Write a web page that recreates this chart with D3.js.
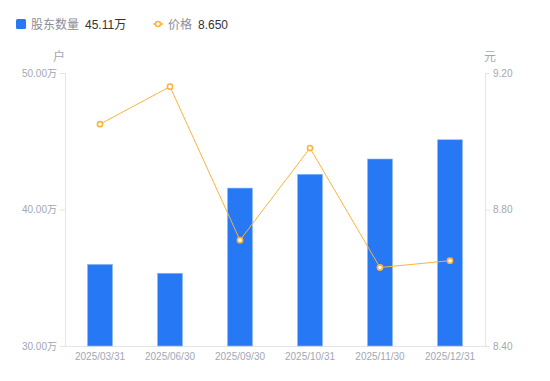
<!DOCTYPE html>
<html><head><meta charset="utf-8">
<script src="https://cdn.jsdelivr.net/npm/d3@7/dist/d3.min.js"></script>
<style>body{margin:0;background:#fff;}svg{display:block;font-family:"Liberation Sans","Noto Sans CJK SC",sans-serif;}</style>
</head><body>
<svg id="c" width="550" height="381"></svg>
<script>
const categories = ["2025/03/31","2025/06/30","2025/09/30","2025/10/31","2025/11/30","2025/12/31"];
const holders = [35.98, 35.33, 41.57, 42.58, 43.70, 45.11];
const prices = [9.05, 9.16, 8.71, 8.98, 8.63, 8.65];
const leftTicks = [30, 40, 50];
const rightTicks = [8.40, 8.80, 9.20];

const svg = d3.select("#c");
const L = 65, R = 485, T = 73, B = 346;
const gray = "#a3a6b4", axisCol = "#e3e4e8";
const ff = "'Liberation Sans', 'Noto Sans CJK SC', sans-serif";

const x = d3.scaleBand().domain(categories).range([L, R]);
const yL = d3.scaleLinear().domain([30, 50]).range([B, T]);
const yR = d3.scaleLinear().domain([8.4, 9.2]).range([B, T]);

const gl = svg.append("g").attr("transform", `translate(${L},0)`)
  .call(d3.axisLeft(yL).tickValues(leftTicks).tickSize(5).tickPadding(3).tickFormat(d => d.toFixed(2) + "万"));
const gr = svg.append("g").attr("transform", `translate(${R},0)`)
  .call(d3.axisRight(yR).tickValues(rightTicks).tickSize(5).tickPadding(3).tickFormat(d => d.toFixed(2)));
const gx = svg.append("g").attr("transform", `translate(0,${B})`)
  .call(d3.axisBottom(x).tickSize(0).tickPadding(7));
[gl, gr, gx].forEach(g => {
  g.selectAll(".domain").attr("stroke", axisCol);
  g.selectAll(".tick line").attr("stroke", axisCol);
  g.selectAll("text").attr("fill", gray).style("font-size", "10px").style("font-family", ff);
});

svg.append("text").attr("x", 59).attr("y", 61).attr("text-anchor", "middle").attr("fill", gray).style("font-size", "12px").text("户");
svg.append("text").attr("x", 490).attr("y", 61).attr("text-anchor", "middle").attr("fill", gray).style("font-size", "12px").text("元");

const bw = 25;
svg.append("g").selectAll("rect").data(holders).join("rect")
  .attr("x", (d, i) => x(categories[i]) + x.bandwidth() / 2 - bw / 2)
  .attr("y", d => yL(d))
  .attr("width", bw)
  .attr("height", d => B - yL(d))
  .attr("fill", "#2778f4")
  .attr("stroke", "#8fb9fa").attr("stroke-width", 0.6);

const orange = "#f9b43c";
const line = d3.line().x((d, i) => x(categories[i]) + x.bandwidth() / 2).y(d => yR(d));
svg.append("path").datum(prices).attr("d", line).attr("fill", "none").attr("stroke", orange).attr("stroke-width", 1);
svg.append("g").selectAll("circle").data(prices).join("circle")
  .attr("cx", (d, i) => x(categories[i]) + x.bandwidth() / 2)
  .attr("cy", d => yR(d))
  .attr("r", 2.6).attr("fill", "#fff").attr("stroke", orange).attr("stroke-width", 1.6);

const lg = svg.append("g").style("font-size", "12px");
lg.append("rect").attr("x", 16).attr("y", 19).attr("width", 10).attr("height", 10).attr("rx", 1.5).attr("fill", "#2778f4");
lg.append("text").attr("x", 31).attr("y", 29).attr("fill", "#8a8d99").text("股东数量");
lg.append("text").attr("x", 85).attr("y", 29).attr("fill", "#333").text(holders[holders.length - 1].toFixed(2) + "万");
lg.append("line").attr("x1", 153).attr("x2", 163).attr("y1", 24).attr("y2", 24).attr("stroke", orange).attr("stroke-width", 1.5);
lg.append("circle").attr("cx", 158).attr("cy", 24).attr("r", 2.5).attr("fill", "#fff").attr("stroke", orange).attr("stroke-width", 1.6);
lg.append("text").attr("x", 168).attr("y", 29).attr("fill", "#8a8d99").text("价格");
lg.append("text").attr("x", 198).attr("y", 29).attr("fill", "#333").text(prices[prices.length - 1].toFixed(3));
</script>
</body></html>
